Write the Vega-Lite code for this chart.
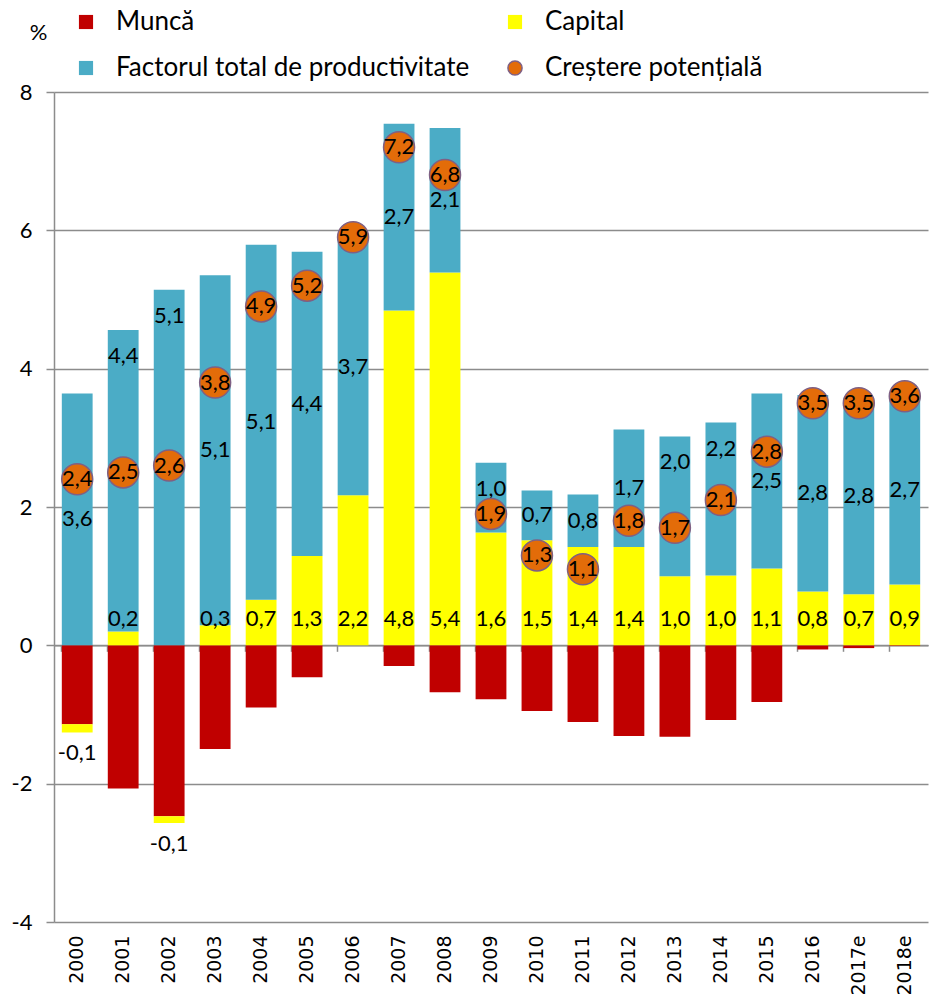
{
  "$schema": "https://vega.github.io/schema/vega-lite/v6.json",
  "width": 874,
  "height": 830,
  "autosize": {"type": "none"},
  "padding": {"left": 54, "top": 92, "right": 3, "bottom": 83},
  "background": "white",
  "config": {
    "locale": {"number": {"decimal": ",", "thousands": ".", "grouping": [3], "currency": ["", ""], "minus": "-"}},
    "view": {"stroke": null},
    "font": "Lato",
    "text": {"font": "Lato", "fontSize": 22, "color": "black"}
  },
  "datasets": {
    "contrib": [
      {"year": "2000", "series": "Muncă", "value": -1.14},
      {"year": "2000", "series": "Capital", "value": -0.12},
      {"year": "2000", "series": "Factorul total de productivitate", "value": 3.64},
      {"year": "2001", "series": "Muncă", "value": -2.07},
      {"year": "2001", "series": "Capital", "value": 0.2},
      {"year": "2001", "series": "Factorul total de productivitate", "value": 4.36},
      {"year": "2002", "series": "Muncă", "value": -2.47},
      {"year": "2002", "series": "Capital", "value": -0.1},
      {"year": "2002", "series": "Factorul total de productivitate", "value": 5.14},
      {"year": "2003", "series": "Muncă", "value": -1.5},
      {"year": "2003", "series": "Capital", "value": 0.29},
      {"year": "2003", "series": "Factorul total de productivitate", "value": 5.06},
      {"year": "2004", "series": "Muncă", "value": -0.9},
      {"year": "2004", "series": "Capital", "value": 0.66},
      {"year": "2004", "series": "Factorul total de productivitate", "value": 5.13},
      {"year": "2005", "series": "Muncă", "value": -0.46},
      {"year": "2005", "series": "Capital", "value": 1.29},
      {"year": "2005", "series": "Factorul total de productivitate", "value": 4.4},
      {"year": "2006", "series": "Muncă", "value": 0},
      {"year": "2006", "series": "Capital", "value": 2.17},
      {"year": "2006", "series": "Factorul total de productivitate", "value": 3.72},
      {"year": "2007", "series": "Muncă", "value": -0.3},
      {"year": "2007", "series": "Capital", "value": 4.84},
      {"year": "2007", "series": "Factorul total de productivitate", "value": 2.7},
      {"year": "2008", "series": "Muncă", "value": -0.68},
      {"year": "2008", "series": "Capital", "value": 5.39},
      {"year": "2008", "series": "Factorul total de productivitate", "value": 2.09},
      {"year": "2009", "series": "Muncă", "value": -0.78},
      {"year": "2009", "series": "Capital", "value": 1.63},
      {"year": "2009", "series": "Factorul total de productivitate", "value": 1.01},
      {"year": "2010", "series": "Muncă", "value": -0.95},
      {"year": "2010", "series": "Capital", "value": 1.52},
      {"year": "2010", "series": "Factorul total de productivitate", "value": 0.72},
      {"year": "2011", "series": "Muncă", "value": -1.11},
      {"year": "2011", "series": "Capital", "value": 1.42},
      {"year": "2011", "series": "Factorul total de productivitate", "value": 0.76},
      {"year": "2012", "series": "Muncă", "value": -1.31},
      {"year": "2012", "series": "Capital", "value": 1.42},
      {"year": "2012", "series": "Factorul total de productivitate", "value": 1.7},
      {"year": "2013", "series": "Muncă", "value": -1.32},
      {"year": "2013", "series": "Capital", "value": 1.0},
      {"year": "2013", "series": "Factorul total de productivitate", "value": 2.02},
      {"year": "2014", "series": "Muncă", "value": -1.08},
      {"year": "2014", "series": "Capital", "value": 1.01},
      {"year": "2014", "series": "Factorul total de productivitate", "value": 2.21},
      {"year": "2015", "series": "Muncă", "value": -0.82},
      {"year": "2015", "series": "Capital", "value": 1.11},
      {"year": "2015", "series": "Factorul total de productivitate", "value": 2.53},
      {"year": "2016", "series": "Muncă", "value": -0.06},
      {"year": "2016", "series": "Capital", "value": 0.78},
      {"year": "2016", "series": "Factorul total de productivitate", "value": 2.84},
      {"year": "2017e", "series": "Muncă", "value": -0.04},
      {"year": "2017e", "series": "Capital", "value": 0.74},
      {"year": "2017e", "series": "Factorul total de productivitate", "value": 2.84},
      {"year": "2018e", "series": "Muncă", "value": -0.01},
      {"year": "2018e", "series": "Capital", "value": 0.88},
      {"year": "2018e", "series": "Factorul total de productivitate", "value": 2.74}
    ],
    "pot": [
      {"year": "2000", "value": 2.4},
      {"year": "2001", "value": 2.5},
      {"year": "2002", "value": 2.6},
      {"year": "2003", "value": 3.8},
      {"year": "2004", "value": 4.9},
      {"year": "2005", "value": 5.2},
      {"year": "2006", "value": 5.9},
      {"year": "2007", "value": 7.2},
      {"year": "2008", "value": 6.8},
      {"year": "2009", "value": 1.9},
      {"year": "2010", "value": 1.3},
      {"year": "2011", "value": 1.1},
      {"year": "2012", "value": 1.8},
      {"year": "2013", "value": 1.7},
      {"year": "2014", "value": 2.1},
      {"year": "2015", "value": 2.8},
      {"year": "2016", "value": 3.5},
      {"year": "2017e", "value": 3.5},
      {"year": "2018e", "value": 3.6}
    ]
  },
  "resolve": {"axis": {"x": "independent"}},
  "layer": [
    {
      "data": {"name": "contrib"},
      "transform": [{"stack": "value", "groupby": ["year"], "as": ["v0", "v1"]}],
      "mark": {"type": "bar"},
      "encoding": {
        "x": {
          "field": "year", "type": "nominal",
          "scale": {"paddingInner": 0.33, "paddingOuter": 0.17},
          "axis": {"title": null, "labelAngle": -90, "labelFont": "DejaVu Sans", "labelFontSize": 19, "labelColor": "black", "labelPadding": 13, "ticks": false, "domain": false, "grid": false}
        },
        "y": {
          "field": "v0", "type": "quantitative",
          "scale": {"domain": [-4, 8], "nice": false, "zero": false},
          "axis": {"values": [-4, -2, 0, 2, 4, 6, 8], "format": "d", "title": "%", "titleAngle": 0, "titleX": -16, "titleY": -60, "titleAlign": "center", "titleBaseline": "middle", "titleFontSize": 22, "titleFont": "Lato", "titleFontWeight": "normal", "titleColor": "black", "labelFontSize": 22, "labelFont": "Lato", "labelColor": "black", "labelPadding": 14, "domainColor": "#8c8c8c", "domainWidth": 1.5, "tickColor": "#8c8c8c", "tickSize": 8, "tickWidth": 1.5, "grid": true, "gridColor": "#8c8c8c", "gridWidth": 1.3}
        },
        "y2": {"field": "v1"},
        "color": {
          "field": "series", "type": "nominal",
          "scale": {"domain": ["Muncă", "Capital", "Factorul total de productivitate", "Creștere potențială"], "range": ["#C00000", "#FFFF00", "#4BACC6", "#E36C09"]},
          "legend": {
            "orient": "none", "legendX": 19, "legendY": -83, "columns": 2, "direction": "horizontal", "title": null, "padding": 0,
            "labelFontSize": 26, "labelFont": "Lato", "labelColor": "black", "labelOffset": 17,
            "symbolSize": 200, "columnPadding": 32, "rowPadding": 20, "labelLimit": 600,
            "encode": {
              "symbols": {"update": {
                "shape": {"signal": "datum.value === 'Creștere potențială' ? 'circle' : 'square'"},
                "stroke": {"signal": "datum.value === 'Creștere potențială' ? '#7F6084' : 'transparent'"},
                "strokeWidth": {"value": 1.5},
                "opacity": {"value": 1}
              }}
            }
          }
        }
      }
    },
    {
      "data": {"name": "contrib"},
      "transform": [
        {"stack": "value", "groupby": ["year"], "as": ["v0", "v1"]},
        {"filter": "datum.series === 'Factorul total de productivitate'"},
        {"fold": ["v0", "v1"], "as": ["edge", "pos"]},
        {"aggregate": [{"op": "mean", "field": "pos", "as": "mid"}, {"op": "max", "field": "pos", "as": "top"}], "groupby": ["year", "value"]},
        {"lookup": "year", "from": {"data": {"name": "pot"}, "key": "year", "fields": ["value"]}, "as": ["pot"]},
        {"filter": "abs(datum.mid - datum.pot) >= 0.35"}
      ],
      "mark": {"type": "text", "baseline": "middle", "align": "center"},
      "encoding": {
        "x": {"field": "year", "type": "nominal", "axis": null},
        "y": {"field": "mid", "type": "quantitative"},
        "text": {"field": "value", "type": "quantitative", "format": ".1f"}
      }
    },
    {
      "data": {"name": "contrib"},
      "transform": [
        {"stack": "value", "groupby": ["year"], "as": ["v0", "v1"]},
        {"filter": "datum.series === 'Factorul total de productivitate'"},
        {"fold": ["v0", "v1"], "as": ["edge", "pos"]},
        {"aggregate": [{"op": "mean", "field": "pos", "as": "mid"}, {"op": "max", "field": "pos", "as": "top"}], "groupby": ["year", "value"]},
        {"lookup": "year", "from": {"data": {"name": "pot"}, "key": "year", "fields": ["value"]}, "as": ["pot"]},
        {"filter": "abs(datum.mid - datum.pot) < 0.35"}
      ],
      "mark": {"type": "text", "baseline": "middle", "align": "center", "dy": 26},
      "encoding": {
        "x": {"field": "year", "type": "nominal", "axis": null},
        "y": {"field": "top", "type": "quantitative"},
        "text": {"field": "value", "type": "quantitative", "format": ".1f"}
      }
    },
    {
      "data": {"name": "contrib"},
      "transform": [
        {"stack": "value", "groupby": ["year"], "as": ["v0", "v1"]},
        {"filter": "datum.series === 'Capital' && datum.value > 0"},
        {"fold": ["v0", "v1"], "as": ["edge", "pos"]},
        {"aggregate": [{"op": "min", "field": "pos", "as": "base"}], "groupby": ["year", "value"]}
      ],
      "mark": {"type": "text", "baseline": "middle", "align": "center", "dy": -26},
      "encoding": {
        "x": {"field": "year", "type": "nominal", "axis": null},
        "y": {"field": "base", "type": "quantitative"},
        "text": {"field": "value", "type": "quantitative", "format": ".1f"}
      }
    },
    {
      "data": {"name": "contrib"},
      "transform": [
        {"stack": "value", "groupby": ["year"], "as": ["v0", "v1"]},
        {"filter": "datum.series === 'Capital' && datum.value < 0"},
        {"fold": ["v0", "v1"], "as": ["edge", "pos"]},
        {"aggregate": [{"op": "min", "field": "pos", "as": "bottom"}], "groupby": ["year", "value"]}
      ],
      "mark": {"type": "text", "baseline": "middle", "align": "center", "dy": 21},
      "encoding": {
        "x": {"field": "year", "type": "nominal", "axis": null},
        "y": {"field": "bottom", "type": "quantitative"},
        "text": {"field": "value", "type": "quantitative", "format": ".1f"}
      }
    },
    {
      "data": {"name": "pot"},
      "mark": {"type": "point", "filled": true, "size": 960, "stroke": "#7F6084", "strokeWidth": 1.5, "opacity": 1, "fillOpacity": 1, "shape": "circle"},
      "encoding": {
        "x": {"field": "year", "type": "nominal", "axis": {"title": null, "labels": false, "grid": false, "domain": true, "domainColor": "#8c8c8c", "domainWidth": 1.5, "ticks": true, "tickSize": 6, "tickColor": "#8c8c8c", "tickWidth": 1.5, "bandPosition": 0, "offset": -276.7, "orient": "bottom"}},
        "y": {"field": "value", "type": "quantitative"},
        "color": {"datum": "Creștere potențială"}
      }
    },
    {
      "data": {"name": "pot"},
      "mark": {"type": "text", "baseline": "middle", "align": "center"},
      "encoding": {
        "x": {"field": "year", "type": "nominal", "axis": null},
        "y": {"field": "value", "type": "quantitative"},
        "text": {"field": "value", "type": "quantitative", "format": ".1f"}
      }
    }
  ]
}
